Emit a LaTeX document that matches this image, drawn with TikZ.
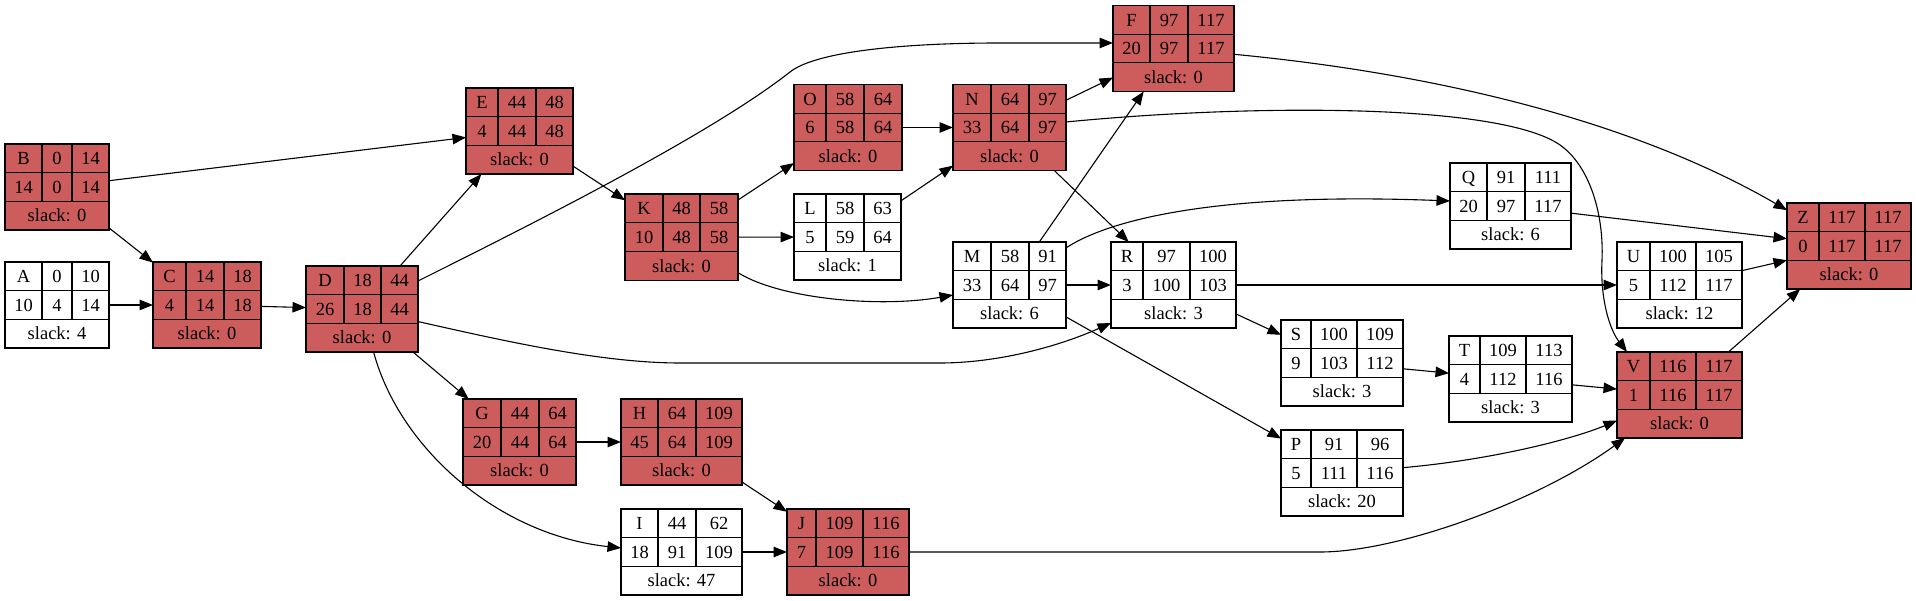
\documentclass[tikz,border=0pt]{standalone}
\usepackage{fontspec}
\setmainfont{Liberation Serif}
\usetikzlibrary{arrows.meta}
\definecolor{crit}{RGB}{205,92,92}
\tikzset{
  recbox/.style={draw=black, line width=1.1pt, rectangle, inner sep=0pt, outer sep=0pt},
  critbox/.style={recbox, fill=crit},
  freebox/.style={recbox, fill=white},
  gridline/.style={draw=black, line width=1.1pt},
  txt/.style={font=\fontsize{18.5}{21}\selectfont, inner sep=0pt, text height=12.6pt, text depth=0pt, anchor=center},
  edge/.style={draw=black, line width=1.1pt, -{Triangle[length=13.5pt,width=10.5pt]}},
}
% #1 name, #2 style, #3-#6 column x, #7 top y, #8 bottom y
\newcommand\mkrec[8]{%
  \node[#2, minimum width={(#6)-(#3)}, minimum height={(#8)-(#7)}] (#1) at ({((#3)+(#6))/2},{((#7)+(#8))/2}) {};
  \draw[gridline] (#4,#7) -- (#4,{(#7)+2*((#8)-(#7))/3});
  \draw[gridline] (#5,#7) -- (#5,{(#7)+2*((#8)-(#7))/3});
  \draw[gridline] (#3,{(#7)+((#8)-(#7))/3}) -- (#6,{(#7)+((#8)-(#7))/3});
  \draw[gridline] (#3,{(#7)+2*((#8)-(#7))/3}) -- (#6,{(#7)+2*((#8)-(#7))/3});
  \coordinate (#1-a) at ({((#3)+(#4))/2},{(#7)+((#8)-(#7))/6});
  \coordinate (#1-b) at ({((#4)+(#5))/2},{(#7)+((#8)-(#7))/6});
  \coordinate (#1-c) at ({((#5)+(#6))/2},{(#7)+((#8)-(#7))/6});
  \coordinate (#1-d) at ({((#3)+(#4))/2},{(#7)+((#8)-(#7))/2});
  \coordinate (#1-e) at ({((#4)+(#5))/2},{(#7)+((#8)-(#7))/2});
  \coordinate (#1-f) at ({((#5)+(#6))/2},{(#7)+((#8)-(#7))/2});
  \coordinate (#1-g) at ({((#3)+(#6))/2},{(#7)+5*((#8)-(#7))/6});
}
\newcommand\mkfields[8]{%
  \node[txt] (#1-1) at (#1-a) {#2};
  \node[txt] (#1-2) at (#1-b) {#3};
  \node[txt] (#1-3) at (#1-c) {#4};
  \node[txt] (#1-4) at (#1-d) {#5};
  \node[txt] (#1-5) at (#1-e) {#6};
  \node[txt] (#1-6) at (#1-f) {#7};
  \node[txt] (#1-7) at (#1-g) {#8};
}
\begin{document}
\begin{tikzpicture}[x=1pt,y=-1pt]
\fill[white] (0,0) rectangle (1916,601);
\useasboundingbox (0,0) rectangle (1916,601);

\mkrec{A}{freebox}{5}{42}{72}{109}{262}{348}
\mkrec{B}{critbox}{5}{42}{72}{109}{144}{230}
\mkrec{C}{critbox}{153}{186}{224}{261}{262}{348}
\mkrec{D}{critbox}{306}{344}{381}{418}{266}{352}
\mkrec{E}{critbox}{466}{498}{536}{573}{88}{174}
\mkrec{F}{critbox}{1113}{1150}{1188}{1234}{5.5}{91.5}
\mkrec{G}{critbox}{463}{501}{539}{576}{399}{485}
\mkrec{H}{critbox}{621}{658}{696}{742}{399}{485}
\mkrec{I}{freebox}{621}{658}{696}{742}{509}{595}
\mkrec{J}{critbox}{787}{816}{863}{909}{509}{595}
\mkrec{K}{critbox}{625}{663}{700}{738}{194}{280.5}
\mkrec{L}{freebox}{794}{826}{864}{901}{194}{280}
\mkrec{M}{freebox}{953}{991}{1029}{1066}{242}{328}
\mkrec{N}{critbox}{953}{991}{1029}{1066}{84.5}{170.5}
\mkrec{O}{critbox}{794}{826}{864}{902}{84.5}{170.5}
\mkrec{P}{freebox}{1281}{1311}{1357}{1403}{430}{516}
\mkrec{Q}{freebox}{1450}{1487}{1525}{1571}{163}{249}
\mkrec{R}{freebox}{1111}{1143}{1190}{1236}{242}{328}
\mkrec{S}{freebox}{1281}{1311}{1357}{1403}{320}{406}
\mkrec{T}{freebox}{1449}{1480}{1526}{1572}{336}{422}
\mkrec{U}{freebox}{1617}{1650}{1696}{1742}{242}{328}
\mkrec{V}{critbox}{1617}{1650}{1696}{1742}{352}{438}
\mkrec{Z}{critbox}{1787}{1819}{1865}{1911}{203}{289}

\mkfields{A}{A}{0}{10}{10}{4}{14}{slack: 4}
\mkfields{B}{B}{0}{14}{14}{0}{14}{slack: 0}
\mkfields{C}{C}{14}{18}{4}{14}{18}{slack: 0}
\mkfields{D}{D}{18}{44}{26}{18}{44}{slack: 0}
\mkfields{E}{E}{44}{48}{4}{44}{48}{slack: 0}
\mkfields{F}{F}{97}{117}{20}{97}{117}{slack: 0}
\mkfields{G}{G}{44}{64}{20}{44}{64}{slack: 0}
\mkfields{H}{H}{64}{109}{45}{64}{109}{slack: 0}
\mkfields{I}{I}{44}{62}{18}{91}{109}{slack: 47}
\mkfields{J}{J}{109}{116}{7}{109}{116}{slack: 0}
\mkfields{K}{K}{48}{58}{10}{48}{58}{slack: 0}
\mkfields{L}{L}{58}{63}{5}{59}{64}{slack: 1}
\mkfields{M}{M}{58}{91}{33}{64}{97}{slack: 6}
\mkfields{N}{N}{64}{97}{33}{64}{97}{slack: 0}
\mkfields{O}{O}{58}{64}{6}{58}{64}{slack: 0}
\mkfields{P}{P}{91}{96}{5}{111}{116}{slack: 20}
\mkfields{Q}{Q}{91}{111}{20}{97}{117}{slack: 6}
\mkfields{R}{R}{97}{100}{3}{100}{103}{slack: 3}
\mkfields{S}{S}{100}{109}{9}{103}{112}{slack: 3}
\mkfields{T}{T}{109}{113}{4}{112}{116}{slack: 3}
\mkfields{U}{U}{100}{105}{5}{112}{117}{slack: 12}
\mkfields{V}{V}{116}{117}{1}{116}{117}{slack: 0}
\mkfields{Z}{Z}{117}{117}{0}{117}{117}{slack: 0}

% straight connectors
\draw[edge] (A) -- (C);
\draw[edge] (B) -- (C);
\draw[edge] (B) -- (E);
\draw[edge] (C) -- (D);
\draw[edge] (D) -- (E);
\draw[edge] (D) -- (G);
\draw[edge] (E) -- (K);
\draw[edge] (K) -- (O);
\draw[edge] (K) -- (L);
\draw[edge] (L) -- (N);
\draw[edge] (O) -- (N);
\draw[edge] (N) -- (F);
\draw[edge] (N) -- (R);
\draw[edge] (M) -- (F);
\draw[edge] (M) -- (R);
\draw[edge] (M) -- (P);
\draw[edge] (R) -- (S);
\draw[edge] (R) -- (U);
\draw[edge] (Q) -- (Z);
\draw[edge] (U) -- (Z);
\draw[edge] (S) -- (T);
\draw[edge] (T) -- (V);
\draw[edge] (V) -- (Z);
\draw[edge] (G) -- (H);
\draw[edge] (H) -- (J);
\draw[edge] (I) -- (J);

% curved connectors
\draw[edge] (D) .. controls (530,225) and (710,135) .. (790,72) .. controls (815,52) and (900,43) .. (1000,43) -- ([yshift=5.5pt]F.west);
\draw[edge] (D) .. controls (400,450) and (500,535) .. ([yshift=4pt]I.west);
\draw[edge] (D) .. controls (500,340) and (600,363) .. (680,363) -- (940,363) .. controls (995,363) and (1055,348) .. ([yshift=-38pt]R.west);
\draw[edge] (K) .. controls (780,299) and (880,308) .. ([yshift=-10pt]M.west);
\draw[edge] (N) .. controls (1250,104) and (1500,103) .. (1560,145) .. controls (1590,166) and (1604,215) .. (1602,260) .. controls (1600,300) and (1610,330) .. ([xshift=10pt]V.north west);
\draw[edge] (M) .. controls (1110,219) and (1220,192) .. ([yshift=5pt]Q.west);
\draw[edge] (F) .. controls (1450,75) and (1640,125) .. (Z);
\draw[edge] (P) .. controls (1490,460) and (1570,440) .. (V);
\draw[edge] (J) -- (1320,552) .. controls (1400,552) and (1540,500) .. ([xshift=8pt]V.south west);
\end{tikzpicture}
\end{document}
